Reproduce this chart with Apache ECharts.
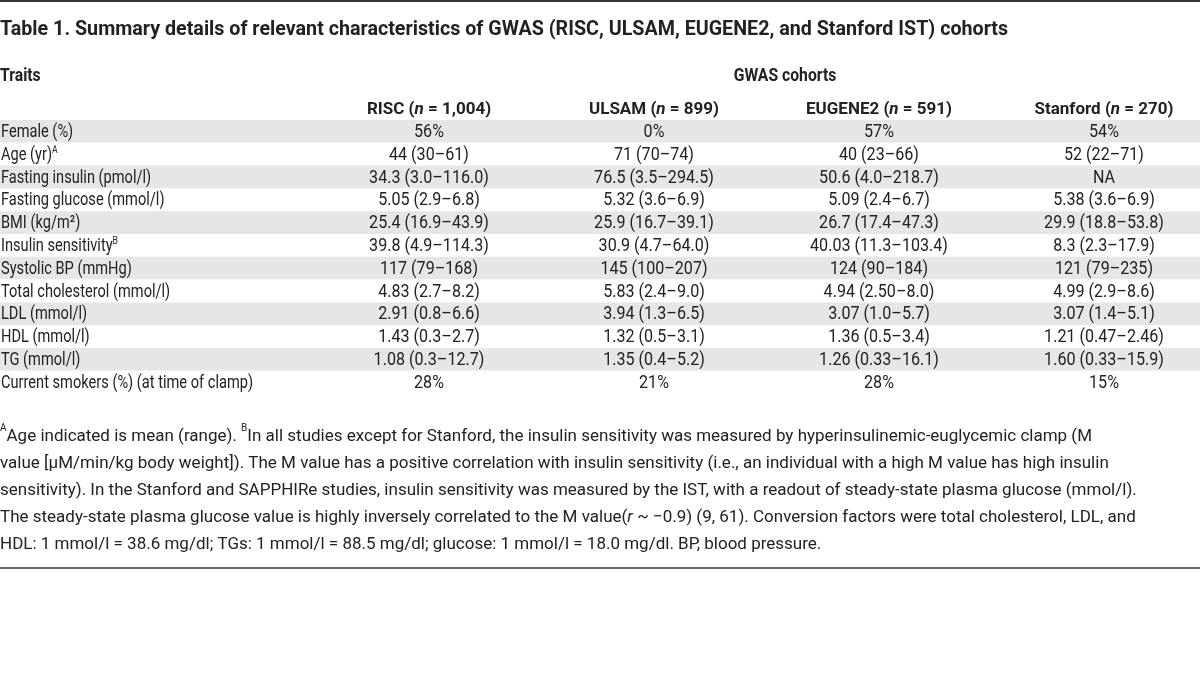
<!DOCTYPE html>
<html>
<head>
<meta charset="utf-8">
<script src="https://cdn.jsdelivr.net/npm/echarts@6/dist/echarts.min.js"></script>
<style>html,body{margin:0;padding:0;background:#fff;}#c{width:1200px;height:681px;}</style>
</head>
<body>
<div id="c"></div>
<script>
// ---- data ----
const traits = ['Female (%)', 'Age (yr)', 'Fasting insulin (pmol/l)', 'Fasting glucose (mmol/l)', 'BMI (kg/m²)', 'Insulin sensitivity', 'Systolic BP (mmHg)', 'Total cholesterol (mmol/l)', 'LDL (mmol/l)', 'HDL (mmol/l)', 'TG (mmol/l)', 'Current smokers (%) (at time of clamp)'];
const traitNotes = ['', 'A', '', '', '', 'B', '', '', '', '', '', ''];
const cohorts = ['RISC', 'ULSAM', 'EUGENE2', 'Stanford'];
const cohortN = ['1,004', '899', '591', '270'];
const risc = ['56%', '44 (30–61)', '34.3 (3.0–116.0)', '5.05 (2.9–6.8)', '25.4 (16.9–43.9)', '39.8 (4.9–114.3)', '117 (79–168)', '4.83 (2.7–8.2)', '2.91 (0.8–6.6)', '1.43 (0.3–2.7)', '1.08 (0.3–12.7)', '28%'];
const ulsam = ['0%', '71 (70–74)', '76.5 (3.5–294.5)', '5.32 (3.6–6.9)', '25.9 (16.7–39.1)', '30.9 (4.7–64.0)', '145 (100–207)', '5.83 (2.4–9.0)', '3.94 (1.3–6.5)', '1.32 (0.5–3.1)', '1.35 (0.4–5.2)', '21%'];
const eugene2 = ['57%', '40 (23–66)', '50.6 (4.0–218.7)', '5.09 (2.4–6.7)', '26.7 (17.4–47.3)', '40.03 (11.3–103.4)', '124 (90–184)', '4.94 (2.50–8.0)', '3.07 (1.0–5.7)', '1.36 (0.5–3.4)', '1.26 (0.33–16.1)', '28%'];
const stanford = ['54%', '52 (22–71)', 'NA', '5.38 (3.6–6.9)', '29.9 (18.8–53.8)', '8.3 (2.3–17.9)', '121 (79–235)', '4.99 (2.9–8.6)', '3.07 (1.4–5.1)', '1.21 (0.47–2.46)', '1.60 (0.33–15.9)', '15%'];
const titleText = 'Table 1. Summary details of relevant characteristics of GWAS (RISC, ULSAM, EUGENE2, and Stanford IST) cohorts';
const footLines = [
  '{sup|A}{t|Age indicated is mean (range). }{sup|B}{t|In all studies except for Stanford, the insulin sensitivity was measured by hyperinsulinemic-euglycemic clamp (M}',
  '{t|value [μM/min/kg body weight]). The M value has a positive correlation with insulin sensitivity (i.e., an individual with a high M value has high insulin}',
  '{t|sensitivity). In the Stanford and SAPPHIRe studies, insulin sensitivity was measured by the IST, with a readout of steady-state plasma glucose (mmol/l).}',
  '{t|The steady-state plasma glucose value is highly inversely correlated to the M value(}{i|r}{t| ~ −0.9) (9, 61). Conversion factors were total cholesterol, LDL, and}',
  '{t|HDL: 1 mmol/l = 38.6 mg/dl; TGs: 1 mmol/l = 88.5 mg/dl; glucose: 1 mmol/l = 18.0 mg/dl. BP, blood pressure.}'
];

// ---- build ----
const colValues = [risc, ulsam, eugene2, stanford];
const cells = [];
colValues.forEach((arr, c) => arr.forEach((t, r) => cells.push({ value: [c, r], text: t })));
const traitCells = traits.map((t, r) => ({ value: [0, r], text: t, note: traitNotes[r] }));

const FONT = 'Roboto, "Noto Sans", sans-serif';
const TXT = '#222';
const TOP = 120, ROWH = 22.8;
const gridBottom = 681 - (TOP + ROWH * traits.length);

const chart = echarts.init(document.getElementById('c'), null, { renderer: 'canvas' });
chart.setOption({
  animation: false,
  backgroundColor: '#fff',
  title: {
    text: titleText, left: 0, top: 19, padding: 0,
    textStyle: { fontFamily: FONT, fontSize: 19.7, fontWeight: 'bold', color: '#222', lineHeight: 22 }
  },
  grid: [
    { left: 0, right: 0, top: TOP, bottom: gridBottom, containLabel: false },
    { left: 429, width: 675, top: TOP, bottom: gridBottom, containLabel: false }
  ],
  xAxis: [
    { type: 'value', gridIndex: 0, min: 0, max: 1, show: false },
    {
      type: 'category', gridIndex: 1, data: cohorts, position: 'top', boundaryGap: false,
      axisLine: { show: false }, axisTick: { show: false }, splitLine: { show: false },
      axisLabel: {
        margin: 2, interval: 0,
        formatter: (v, i) => '{b|' + v + ' (}{bi|n}{b| = ' + cohortN[i] + ')}',
        rich: {
          b: { fontFamily: FONT, fontSize: 17, fontWeight: 'bold', color: '#222' },
          bi: { fontFamily: FONT, fontSize: 17, fontWeight: 'bold', fontStyle: 'italic', color: '#222' }
        }
      }
    }
  ],
  yAxis: [
    {
      type: 'category', gridIndex: 0, data: traits, inverse: true,
      axisLine: { show: false }, axisTick: { show: false }, splitLine: { show: false },
      axisLabel: { show: false },
      splitArea: { show: true, areaStyle: { color: ['#e6e6e6', '#ffffff'] } }
    },
    { type: 'category', gridIndex: 1, data: traits, inverse: true, show: false }
  ],
  series: [
    {
      type: 'custom', xAxisIndex: 0, yAxisIndex: 0, silent: true,
      data: traitCells,
      renderItem: (params, api) => {
        const p = api.coord([api.value(0), api.value(1)]);
        const it = traitCells[params.dataIndex];
        return {
          type: 'text', x: p[0] + 1, y: p[1] + 1, scaleX: 0.79,
          style: {
            text: '{t|' + it.text + '}' + (it.note ? '{sup|' + it.note + '}' : ''),
            align: 'left', verticalAlign: 'middle',
            rich: {
              t: { fontFamily: FONT, fontSize: 18.5, fill: TXT, lineHeight: 21 },
              sup: { fontFamily: FONT, fontSize: 11, fill: TXT, verticalAlign: 'top', lineHeight: 21 }
            }
          }
        };
      }
    },
    {
      type: 'custom', xAxisIndex: 1, yAxisIndex: 1, silent: true,
      data: cells,
      renderItem: (params, api) => {
        const p = api.coord([api.value(0), api.value(1)]);
        const it = cells[params.dataIndex];
        return {
          type: 'text', x: p[0], y: p[1] + 1, scaleX: 0.87,
          style: { text: it.text, fontFamily: FONT, fontSize: 18.5, fill: TXT, align: 'center', verticalAlign: 'middle' }
        };
      }
    }
  ],
  graphic: [
    { type: 'rect', left: 0, top: 0, shape: { width: 1200, height: 2 }, style: { fill: '#333' } },
    { type: 'text', x: 0, y: 76, scaleX: 0.85, style: { text: 'Traits', font: 'bold 18.5px ' + FONT, fill: '#222', verticalAlign: 'middle' } },
    { type: 'text', x: 785, y: 76, scaleX: 0.85, style: { text: 'GWAS cohorts', font: 'bold 18.5px ' + FONT, fill: '#222', align: 'center', verticalAlign: 'middle' } },
    {
      type: 'text', x: 0, y: 423,
      style: {
        text: footLines.join('\n'),
        rich: {
          t: { fontFamily: FONT, fontSize: 17, fill: TXT, lineHeight: 27 },
          i: { fontFamily: FONT, fontSize: 17, fontStyle: 'italic', fill: TXT, lineHeight: 27 },
          sup: { fontFamily: FONT, fontSize: 10, fill: TXT, verticalAlign: 'top', lineHeight: 27 }
        }
      }
    },
    { type: 'rect', left: 0, top: 567, shape: { width: 1200, height: 2 }, style: { fill: '#666' } }
  ]
});
</script>
</body>
</html>
